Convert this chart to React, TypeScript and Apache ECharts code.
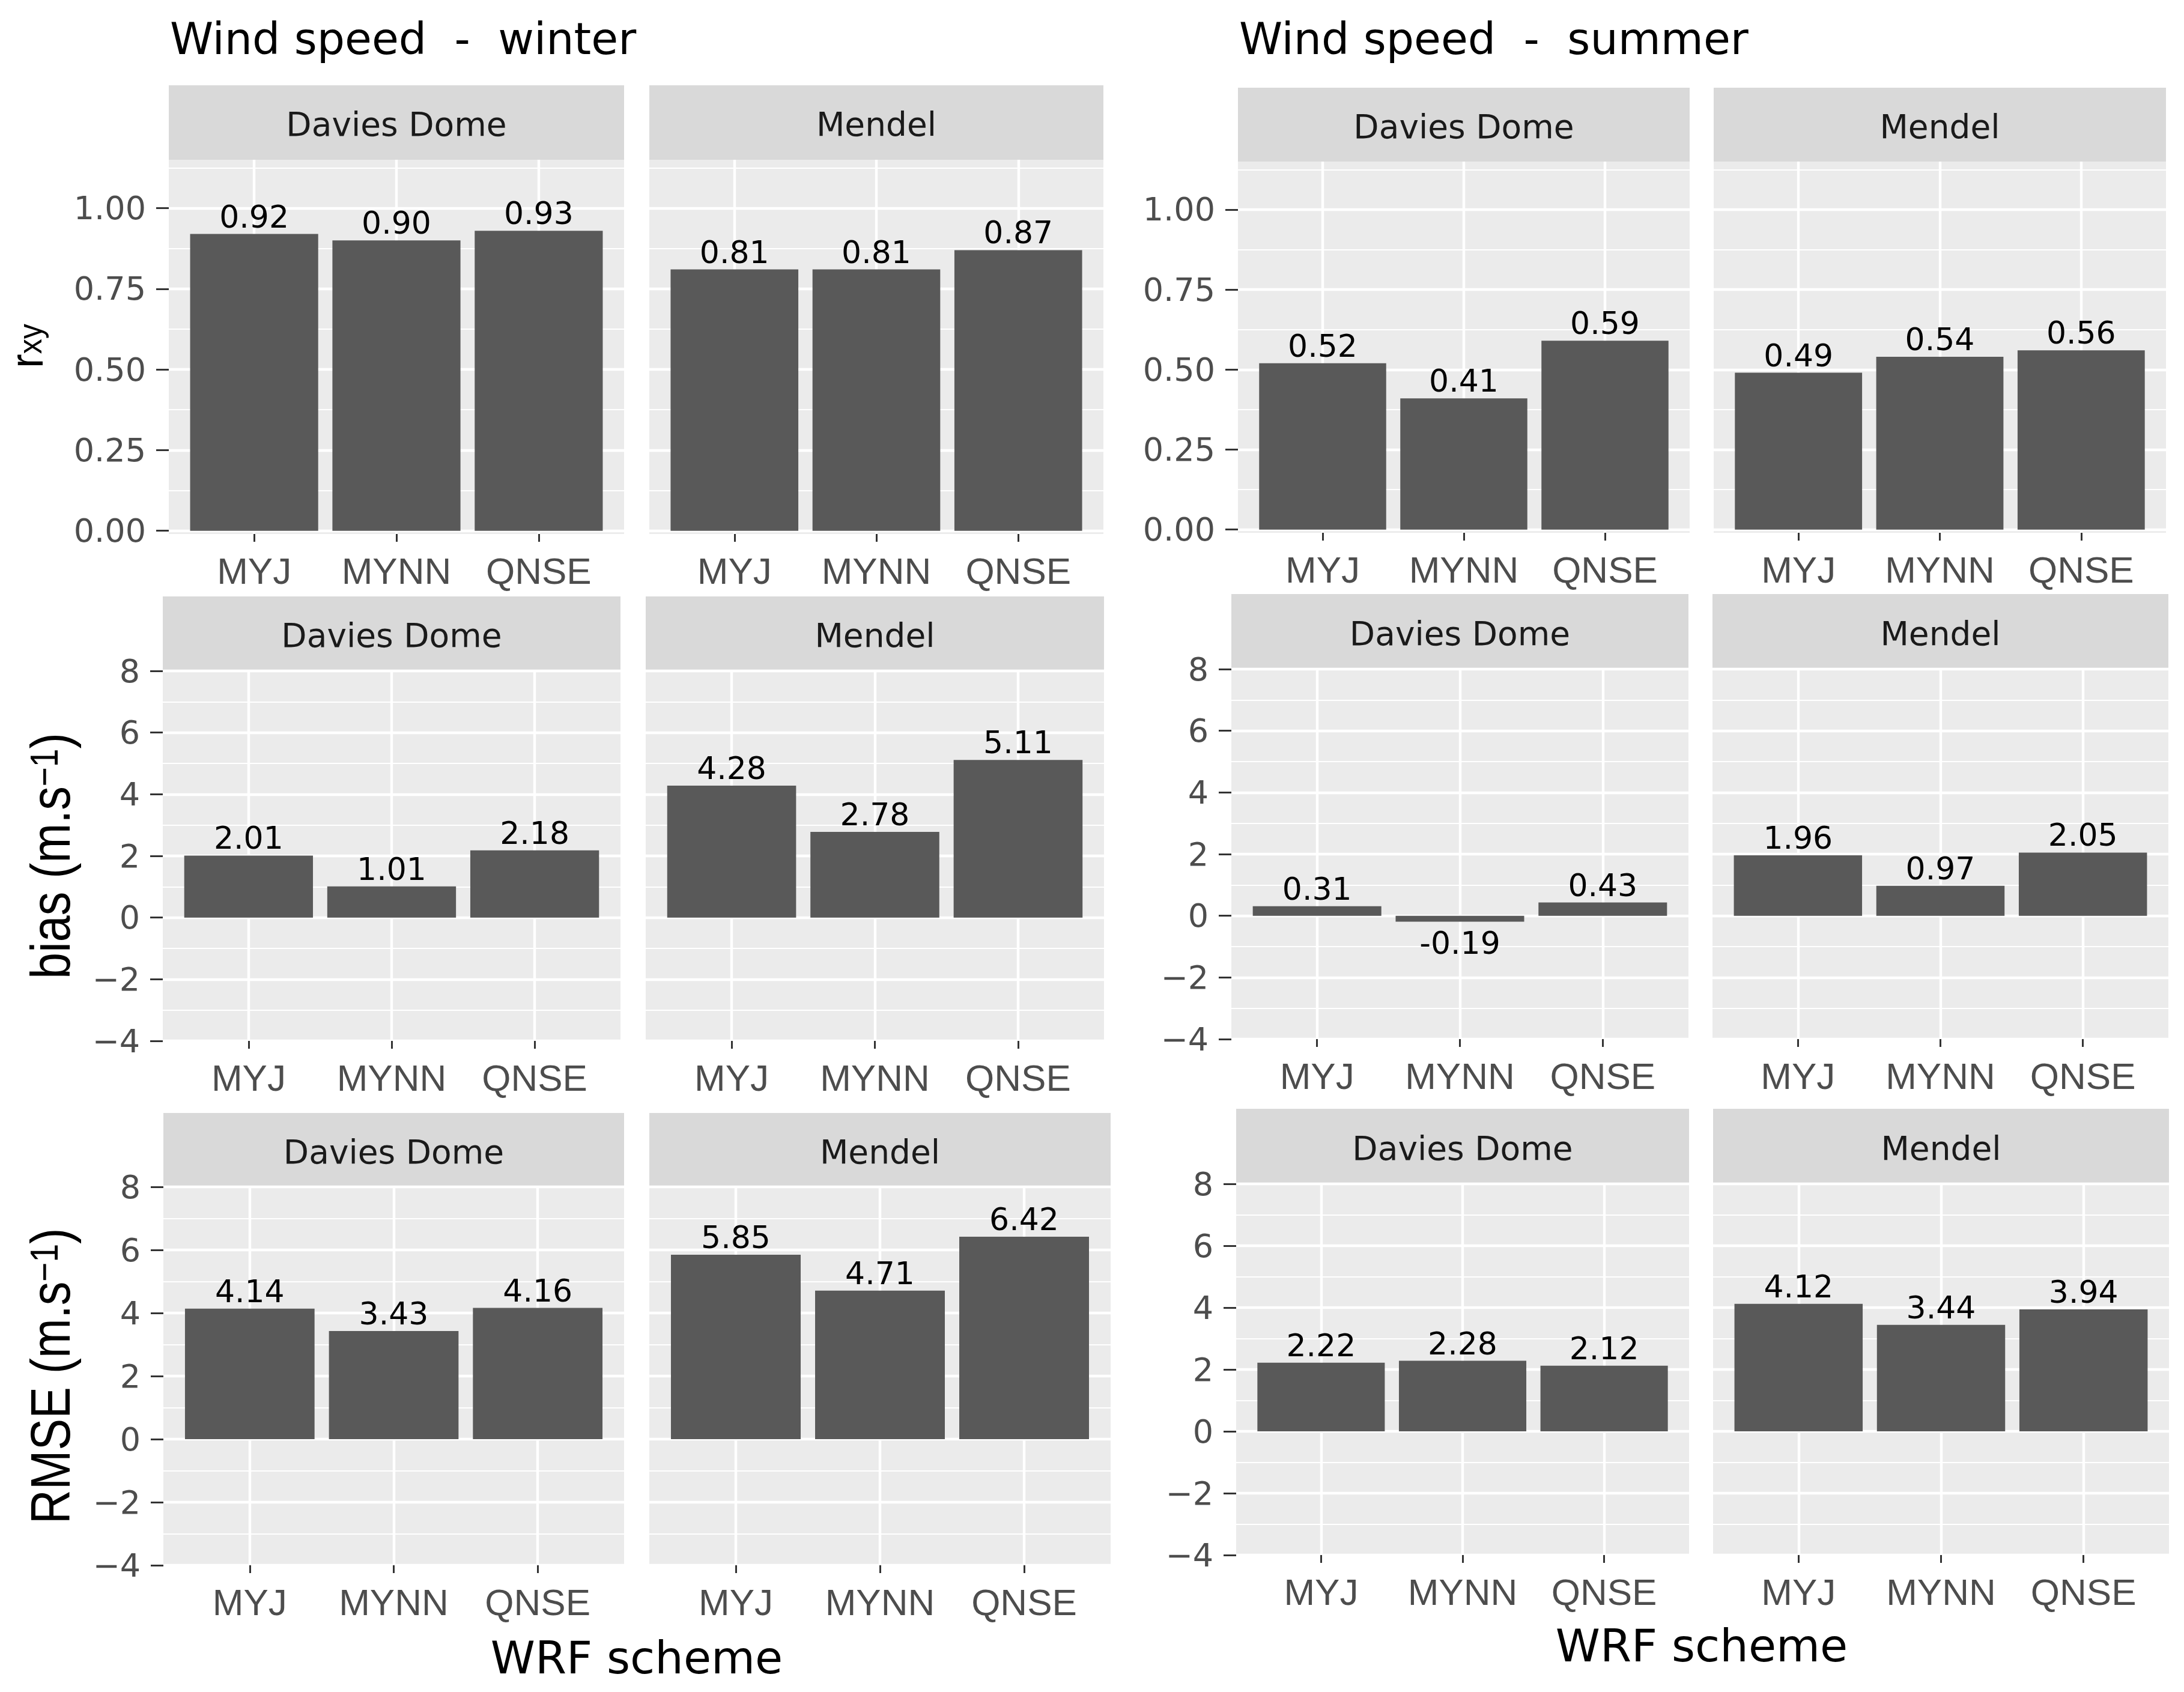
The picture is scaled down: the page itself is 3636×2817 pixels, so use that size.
import React, { useEffect, useRef } from 'react';
import * as echarts from 'echarts';

// ---------------- data ----------------
const schemes = ['MYJ', 'MYNN', 'QNSE'];
const sites = ['Davies Dome', 'Mendel'];
const seasonTitles = ['Wind speed  -  winter', 'Wind speed  -  summer'];
const xTitle = 'WRF scheme';

const rxyWinterDavies = [0.92, 0.90, 0.93];
const rxyWinterMendel = [0.81, 0.81, 0.87];
const rxySummerDavies = [0.52, 0.41, 0.59];
const rxySummerMendel = [0.49, 0.54, 0.56];

const biasWinterDavies = [2.01, 1.01, 2.18];
const biasWinterMendel = [4.28, 2.78, 5.11];
const biasSummerDavies = [0.31, -0.19, 0.43];
const biasSummerMendel = [1.96, 0.97, 2.05];

const rmseWinterDavies = [4.14, 3.43, 4.16];
const rmseWinterMendel = [5.85, 4.71, 6.42];
const rmseSummerDavies = [2.22, 2.28, 2.12];
const rmseSummerMendel = [4.12, 3.44, 3.94];

const rxyTickValues = [0, 0.25, 0.5, 0.75, 1];
const rxyTickLabels = ['0.00', '0.25', '0.50', '0.75', '1.00'];
const rxyMinorValues = [0.125, 0.375, 0.625, 0.875, 1.125];
const rxyRange = [-0.01, 1.15];

const errTickValues = [-4, -2, 0, 2, 4, 6, 8];
const errTickLabels = ['\u22124', '\u22122', '0', '2', '4', '6', '8'];
const errMinorValues = [-3, -1, 1, 3, 5, 7];
const errRange = [-4, 8];

const categoryPositions = [1, 2, 3];

// ---------------- styles / layout ----------------
const FONT = 'DejaVu Sans';
const FONT_ARIAL = 'Liberation Sans';
const PANEL_BG = '#EBEBEB';
const STRIP_BG = '#D9D9D9';
const BAR = '#595959';
const TICK = '#333333';
const TICK_TEXT = '#4D4D4D';

type Box = { l: number; r: number; t: number; b: number; st: number };
// [row][season][site]
const LAYOUT: Box[][][] = [
  [
    [
      { l: 281, r: 1039, t: 266, b: 889, st: 142 },
      { l: 1081, r: 1837, t: 266, b: 889, st: 142 },
    ],
    [
      { l: 2061, r: 2813, t: 269, b: 887, st: 146 },
      { l: 2853, r: 3606, t: 269, b: 887, st: 146 },
    ],
  ],
  [
    [
      { l: 271, r: 1033, t: 1117, b: 1733, st: 993 },
      { l: 1075, r: 1838, t: 1117, b: 1733, st: 993 },
    ],
    [
      { l: 2050, r: 2811, t: 1114, b: 1730, st: 989 },
      { l: 2851, r: 3610, t: 1114, b: 1730, st: 989 },
    ],
  ],
  [
    [
      { l: 272, r: 1039, t: 1976, b: 2606, st: 1853 },
      { l: 1081, r: 1849, t: 1976, b: 2606, st: 1853 },
    ],
    [
      { l: 2058, r: 2812, t: 1971, b: 2589, st: 1846 },
      { l: 2852, r: 3611, t: 1971, b: 2589, st: 1846 },
    ],
  ],
];

const rows = [
  {
    values: [
      [rxyWinterDavies, rxyWinterMendel],
      [rxySummerDavies, rxySummerMendel],
    ],
    ticks: rxyTickValues,
    labels: rxyTickLabels,
    minor: rxyMinorValues,
    range: rxyRange,
  },
  {
    values: [
      [biasWinterDavies, biasWinterMendel],
      [biasSummerDavies, biasSummerMendel],
    ],
    ticks: errTickValues,
    labels: errTickLabels,
    minor: errMinorValues,
    range: errRange,
  },
  {
    values: [
      [rmseWinterDavies, rmseWinterMendel],
      [rmseSummerDavies, rmseSummerMendel],
    ],
    ticks: errTickValues,
    labels: errTickLabels,
    minor: errMinorValues,
    range: errRange,
  },
];

const renderBar = (_params: any, api: any) => {
  const x = api.value(0) as number;
  const y = api.value(1) as number;
  const pTop = api.coord([x - 0.45, y]);
  const pBase = api.coord([x + 0.45, 0]);
  const x0 = pTop[0];
  const x1 = pBase[0];
  const yA = Math.min(pTop[1], pBase[1]);
  const yB = Math.max(pTop[1], pBase[1]);
  const pos = y >= 0;
  return {
    type: 'group',
    children: [
      {
        type: 'rect',
        shape: { x: x0, y: yA, width: x1 - x0, height: yB - yA },
        style: { fill: BAR },
      },
      {
        type: 'text',
        x: (x0 + x1) / 2,
        y: pos ? yA - 3 : yB + 10,
        style: {
          text: y.toFixed(2),
          fill: '#000000',
          fontSize: 52,
          fontFamily: FONT,
          align: 'center',
          verticalAlign: pos ? 'bottom' : 'top',
        },
      },
    ],
  };
};

function buildOption() {
  const grids: any[] = [];
  const xAxes: any[] = [];
  const yAxes: any[] = [];
  const series: any[] = [];
  const graphics: any[] = [];
  let gi = 0;

  rows.forEach((row, ri) => {
    [0, 1].forEach((si) => {
      [0, 1].forEach((ki) => {
        const box = LAYOUT[ri][si][ki];
        grids.push({
          left: box.l,
          top: box.t,
          width: box.r - box.l,
          height: box.b - box.t,
          show: true,
          backgroundColor: PANEL_BG,
          borderWidth: 0,
          containLabel: false,
          outerBoundsMode: 'none',
        });
        xAxes.push({
          gridIndex: gi,
          type: 'value',
          min: 0.4,
          max: 3.6,
          position: 'bottom',
          axisLine: { show: false, onZero: false },
          axisTick: {
            show: true,
            customValues: categoryPositions,
            length: 13,
            lineStyle: { color: TICK, width: 3 },
          },
          axisLabel: {
            show: true,
            customValues: categoryPositions,
            formatter: (v: number) => schemes[Math.round(v) - 1],
            margin: 30,
            color: TICK_TEXT,
            fontSize: 62,
            fontFamily: FONT_ARIAL,
          },
          splitLine: { show: true, lineStyle: { color: '#FFFFFF', width: 4.4 } },
        });
        const showY = ki === 0;
        yAxes.push({
          gridIndex: gi,
          type: 'value',
          min: row.range[0],
          max: row.range[1],
          position: 'left',
          axisLine: { show: false, onZero: false },
          axisTick: {
            show: showY,
            customValues: row.ticks,
            length: 21,
            lineStyle: { color: TICK, width: 3 },
          },
          axisLabel: {
            show: showY,
            customValues: row.ticks,
            formatter: (v: number) => {
              const idx = row.ticks.findIndex((t) => Math.abs(t - v) < 1e-9);
              return idx >= 0 ? row.labels[idx] : String(v);
            },
            margin: 38,
            color: TICK_TEXT,
            fontSize: 54,
            fontFamily: FONT,
          },
          splitLine: { show: true, lineStyle: { color: '#FFFFFF', width: 4.4 } },
        });
        yAxes.push({
          gridIndex: gi,
          type: 'value',
          min: row.range[0],
          max: row.range[1],
          position: 'left',
          axisLine: { show: false, onZero: false },
          axisTick: { show: false, customValues: row.minor },
          axisLabel: { show: false, customValues: row.minor },
          splitLine: { show: true, lineStyle: { color: '#FFFFFF', width: 2.2 } },
        });
        const vals = row.values[si][ki];
        series.push({
          type: 'custom',
          xAxisIndex: gi,
          yAxisIndex: 2 * gi,
          data: vals.map((v, k) => [categoryPositions[k], v]),
          renderItem: renderBar,
          clip: false,
          silent: true,
          z: 5,
        });
        graphics.push({
          type: 'rect',
          shape: { x: box.l, y: box.st, width: box.r - box.l, height: box.t - box.st },
          style: { fill: STRIP_BG },
          silent: true,
        });
        graphics.push({
          type: 'text',
          x: (box.l + box.r) / 2,
          y: (box.st + box.t) / 2 + 3,
          style: {
            text: sites[ki],
            fill: '#1A1A1A',
            fontSize: 55,
            fontFamily: FONT,
            align: 'center',
            verticalAlign: 'middle',
          },
          silent: true,
        });
        gi++;
      });
    });
  });

  // season titles
  graphics.push({
    type: 'text',
    x: 283,
    y: 64,
    style: { text: seasonTitles[0], fill: '#000000', fontSize: 73, fontFamily: FONT, align: 'left', verticalAlign: 'middle' },
  });
  graphics.push({
    type: 'text',
    x: 2063,
    y: 64,
    style: { text: seasonTitles[1], fill: '#000000', fontSize: 73, fontFamily: FONT, align: 'left', verticalAlign: 'middle' },
  });
  // x titles
  graphics.push({
    type: 'text',
    x: 1060,
    y: 2760,
    style: { text: xTitle, fill: '#000000', fontSize: 75, fontFamily: FONT, align: 'center', verticalAlign: 'middle' },
  });
  graphics.push({
    type: 'text',
    x: 2833,
    y: 2740,
    style: { text: xTitle, fill: '#000000', fontSize: 75, fontFamily: FONT, align: 'center', verticalAlign: 'middle' },
  });
  // y titles (rotated)
  graphics.push({
    type: 'text',
    x: 44,
    y: 576,
    rotation: Math.PI / 2,
    scaleY: 1.1,
    style: {
      text: '{m|r}{s|xy}',
      align: 'center',
      verticalAlign: 'middle',
      rich: {
        m: { fontSize: 70, fontFamily: FONT_ARIAL, fill: '#000000', lineHeight: 60 },
        s: { fontSize: 50, fontFamily: FONT_ARIAL, fill: '#000000', lineHeight: 26, verticalAlign: 'bottom' },
      },
    },
  });
  const supRich = {
    m: { fontSize: 79, fontFamily: FONT_ARIAL, fill: '#000000', lineHeight: 73 },
    s: { fontSize: 55, fontFamily: FONT_ARIAL, fill: '#000000', lineHeight: 55, verticalAlign: 'top' },
  };
  graphics.push({
    type: 'text',
    x: 84,
    y: 1425,
    rotation: Math.PI / 2,
    scaleY: 1.18,
    style: { text: '{m|bias (m.s}{s|\u22121}{m|)}', align: 'center', verticalAlign: 'middle', rich: supRich },
  });
  graphics.push({
    type: 'text',
    x: 84,
    y: 2291,
    rotation: Math.PI / 2,
    scaleY: 1.18,
    style: { text: '{m|RMSE (m.s}{s|\u22121}{m|)}', align: 'center', verticalAlign: 'middle', rich: supRich },
  });

  return {
    animation: false,
    backgroundColor: '#FFFFFF',
    grid: grids,
    xAxis: xAxes,
    yAxis: yAxes,
    series,
    graphic: { elements: graphics },
  };
}

export default function App() {
  const ref = useRef<HTMLDivElement>(null);
  useEffect(() => {
    if (!ref.current) return;
    const chart = echarts.init(ref.current, undefined, { renderer: 'svg' });
    chart.setOption(buildOption() as any);
    return () => {
      chart.dispose();
    };
  }, []);
  return (
    <div
      ref={ref}
      style={{ position: 'absolute', left: 0, top: 0, width: 3636, height: 2817, background: '#FFFFFF' }}
    />
  );
}
